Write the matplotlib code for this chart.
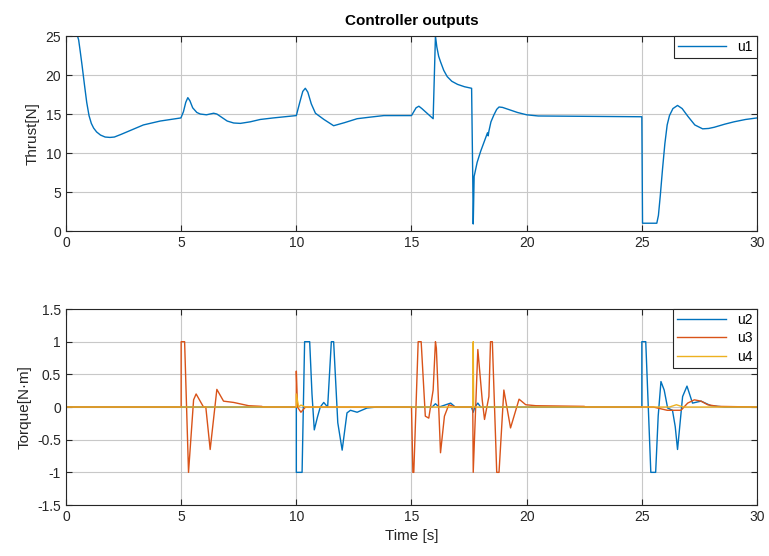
import numpy as np
import matplotlib.pyplot as plt

plt.rcParams['font.family'] = ['Liberation Sans', 'DejaVu Sans']

# thrust u1
t1 = [0, 0.5, 0.55, 0.62, 0.7, 0.8, 0.9, 1.0, 1.1, 1.2, 1.33, 1.5, 1.7, 1.91, 2.1,
      2.4, 2.8, 3.36, 4.09, 4.99, 5.1, 5.2, 5.29, 5.38, 5.5, 5.68, 5.83, 6.1, 6.25,
      6.41, 6.55, 6.8, 7.0, 7.28, 7.57, 8.0, 8.43, 9.0, 10.0, 10.15, 10.28, 10.39,
      10.5, 10.65, 10.83, 11.2, 11.62, 12.1, 12.64, 13.2, 13.8, 15.0, 15.1, 15.2,
      15.32, 15.45, 15.6, 15.94, 16.04, 16.1, 16.18, 16.26, 16.4, 16.55, 16.75, 17.0,
      17.3, 17.61, 17.66, 17.68, 17.72, 17.85, 18.0, 18.2, 18.3, 18.33, 18.36, 18.45,
      18.58, 18.7, 18.8, 18.95, 19.3, 19.6, 20.0, 20.5, 25.0, 25.03, 25.65, 25.72,
      25.8, 25.9, 26.0, 26.1, 26.2, 26.35, 26.55, 26.75, 27.0, 27.3, 27.64, 27.9,
      28.14, 28.6, 29.0, 29.5, 30.0]
u1 = [25, 25, 24.5, 23, 21.2, 18.8, 16.5, 14.8, 13.8, 13.2, 12.7, 12.3, 12.05, 12.0, 12.05,
      12.4, 12.9, 13.6, 14.1, 14.5, 15.3, 16.5, 17.1, 16.7, 15.8, 15.2, 15.0, 14.9, 15.0,
      15.1, 15.0, 14.5, 14.1, 13.85, 13.8, 14.0, 14.3, 14.5, 14.8, 16.5, 17.9, 18.3,
      17.8, 16.3, 15.1, 14.3, 13.5, 13.9, 14.4, 14.6, 14.8, 14.8, 15.3, 15.8,
      16.0, 15.7, 15.3, 14.4, 25, 23.6, 22.4, 21.7, 20.6, 19.8, 19.2, 18.8,
      18.5, 18.3, 6.7, 0.9, 7.0, 8.8, 10.2, 11.8, 12.6, 12.2, 12.8, 14.0,
      14.9, 15.6, 15.9, 15.85, 15.5, 15.2, 14.9, 14.75, 14.65, 1.0, 1.0, 2.0,
      4.5, 8.0, 11.2, 13.6, 14.8, 15.7, 16.1, 15.7, 14.7, 13.6, 13.1, 13.15,
      13.3, 13.7, 14.0, 14.3, 14.5]

# torque u2
t2 = [0, 10.0, 10.0, 10.25, 10.36, 10.58, 10.68, 10.78, 10.92, 11.04, 11.19, 11.36,
      11.52, 11.62, 11.8, 11.99, 12.2, 12.35, 12.64, 13.07, 13.5, 15.9, 16.04, 16.2,
      16.7, 16.9, 17.6, 17.68, 17.75, 17.88, 18.0, 25.0, 25.0, 25.17, 25.39, 25.6,
      25.71, 25.83, 25.97, 26.12, 26.33, 26.45, 26.55, 26.77, 26.96, 27.2, 27.57,
      28.0, 28.6, 30]
u2 = [0, 0, -1, -1, 1, 1, 0.2, -0.35, -0.15, 0.0, 0.07, 0.0,
      1, 1, -0.24, -0.66, -0.09, -0.05, -0.08, -0.015, 0, 0, 0.05, 0,
      0.06, 0, 0, -0.08, 0, 0.06, 0, 0, 1, 1, -1, -1,
      -0.14, 0.39, 0.26, -0.015, -0.05, -0.3, -0.65, 0.16, 0.32, 0.06, 0.09,
      0.02, 0, 0]

# torque u3
t3 = [0, 5.0, 5.0, 5.15, 5.32, 5.54, 5.65, 5.97, 6.07, 6.26, 6.55, 6.84, 7.28, 7.93,
      8.5, 8.55, 10.0, 10.0, 10.05, 10.2, 10.4, 15.0, 15.06, 15.1, 15.29, 15.42, 15.6,
      15.75, 15.94, 16.04, 16.08, 16.26, 16.43, 16.62, 16.9, 17.66, 17.68, 17.88, 18.07,
      18.17, 18.36, 18.43, 18.51, 18.7, 18.8, 19.01, 19.3, 19.67, 19.96, 20.4, 22.5,
      22.55, 25.5, 26.1, 26.7, 26.99, 27.28, 27.57, 27.86, 28.3, 30]
u3 = [0, 0, 1, 1, -1, 0.11, 0.2, 0, 0, -0.65, 0.27, 0.09, 0.07, 0.02,
      0.01, 0, 0, 0.55, 0.0, -0.08, 0, 0, -1, -1, 1, 1, -0.14,
      -0.17, 0.26, 1, 0.9, -0.7, -0.14, 0.035, 0, 0, -1, 0.88, 0.11,
      -0.19, 0.16, 1, 1, -1, -1, 0.26, -0.32, 0.12, 0.035, 0.02, 0.01,
      0, 0, -0.05, -0.05, 0.06, 0.11, 0.09, 0.035, 0.01, 0]

# torque u4
t4 = [0, 10.0, 10.0, 10.1, 10.2, 10.4, 17.66, 17.68, 17.7, 26.2, 26.5, 26.8, 30]
u4 = [0, 0, 0.2, 0.0, 0.03, 0, 0, 1, 0, 0, 0.035, 0, 0]

c_blue = '#0072BD'
c_orange = '#D95319'
c_yellow = '#EDB120'
c_axis = '#262626'

fig = plt.figure(figsize=(7.69, 5.56), dpi=100)
ax1 = fig.add_axes([0.0858, 0.5845, 0.8986, 0.3507])
ax2 = fig.add_axes([0.0858, 0.0917, 0.8986, 0.3525])


def style(ax):
    ax.grid(True, color='#c8c8c8', linewidth=0.8)
    ax.set_axisbelow(True)
    ax.tick_params(direction='in', top=True, right=True, colors=c_axis,
                   labelsize=10, length=4, width=0.8)
    for s in ax.spines.values():
        s.set_color(c_axis)
        s.set_linewidth(0.8)
    ax.set_xlim(0, 30)
    ax.set_xticks(np.arange(0, 31, 5))


ax1.plot(t1, u1, color=c_blue, lw=1.0, label='u1')
style(ax1)
ax1.set_ylim(0, 25)
ax1.set_yticks(np.arange(0, 26, 5))
ax1.set_ylabel('Thrust[N]', fontsize=11, color=c_axis)
ax1.set_title('Controller outputs', fontsize=11, fontweight='bold', color='black', pad=8)
leg = ax1.legend(loc='upper right', fontsize=10, fancybox=False, framealpha=1,
                 borderaxespad=0, handlelength=3.5, borderpad=0.3)
leg.get_frame().set_edgecolor(c_axis)
leg.get_frame().set_linewidth(0.8)

ax2.plot(t2, u2, color=c_blue, lw=1.0, label='u2')
ax2.plot(t3, u3, color=c_orange, lw=1.0, label='u3')
ax2.plot(t4, u4, color=c_yellow, lw=1.0, label='u4')
style(ax2)
ax2.set_ylim(-1.5, 1.5)
ax2.set_yticks([-1.5, -1, -0.5, 0, 0.5, 1, 1.5])
ax2.set_yticklabels(['-1.5', '-1', '-0.5', '0', '0.5', '1', '1.5'])
ax2.set_ylabel('Torque[N\u00b7m]', fontsize=11, color=c_axis)
ax2.set_xlabel('Time [s]', fontsize=11, color=c_axis)
leg2 = ax2.legend(loc='upper right', fontsize=10, fancybox=False, framealpha=1,
                  borderaxespad=0, handlelength=3.5, borderpad=0.3, labelspacing=0.3)
leg2.get_frame().set_edgecolor(c_axis)
leg2.get_frame().set_linewidth(0.8)

fig.savefig('out.png', dpi=100)
